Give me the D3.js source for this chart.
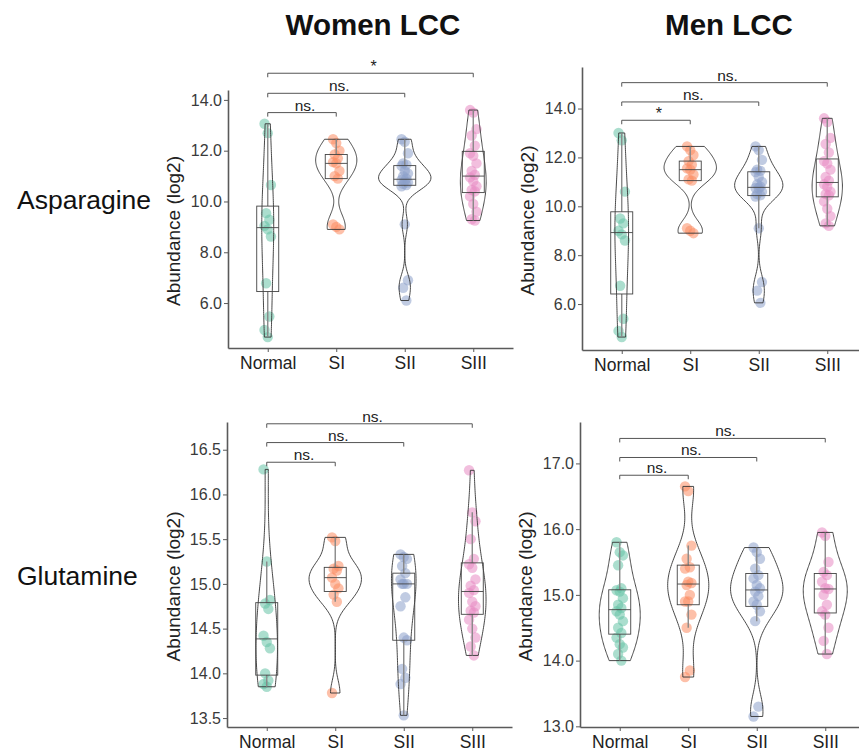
<!DOCTYPE html>
<html><head><meta charset="utf-8">
<script src="https://cdn.jsdelivr.net/npm/d3@7"></script>
<style>body{margin:0;background:#fff}svg{display:block;font-family:"Liberation Sans",Arial,sans-serif}</style>
</head><body><svg id="c" width="859" height="752"></svg>
<script>
// ---------- data ----------
const groups = ["Normal","SI","SII","SIII"];
const columnTitles = ["Women LCC","Men LCC"];
const rowTitles = ["Asparagine","Glutamine"];
const yLabel = "Abundance (log2)";

const womenAsnNormal = [13.06,12.69,10.65,9.54,9.28,9.04,8.9,8.62,6.78,5.47,4.94,4.66];
const womenAsnSI     = [12.45,12.3,12.0,11.85,11.7,11.55,11.5,11.2,11.0,10.9,9.1,9.0,8.9];
const womenAsnSII    = [12.45,12.35,11.9,11.5,11.45,11.4,11.2,11.1,11.0,10.9,10.85,10.8,10.75,10.7,10.65,10.6,9.1,6.9,6.6,6.1];
const womenAsnSIII   = [13.6,13.5,12.85,12.6,12.2,11.9,11.8,11.5,11.2,11.05,10.95,10.8,10.6,10.45,10.4,10.2,9.9,9.6,9.3,9.25];

const menAsnNormal = [13.0,12.7,10.6,9.5,9.3,9.0,8.85,8.6,6.75,5.4,4.9,4.65];
const menAsnSI     = [12.45,12.3,12.1,11.85,11.7,11.55,11.5,11.3,11.1,11.05,9.1,9.0,8.9];
const menAsnSII    = [12.45,12.3,11.9,11.5,11.45,11.4,11.2,11.0,10.9,10.8,10.75,10.75,10.6,10.5,10.45,10.4,9.1,6.9,6.55,6.05];
const menAsnSIII   = [13.6,13.45,12.8,12.55,12.2,11.85,11.75,11.5,11.2,11.05,10.9,10.8,10.6,10.5,10.45,10.2,9.9,9.6,9.3,9.2];

const womenGlnNormal = [16.28,15.25,14.82,14.78,14.72,14.42,14.35,14.28,14.0,13.92,13.88,13.85];
const womenGlnSI     = [15.52,15.48,15.2,15.17,15.15,15.07,15.0,14.95,14.88,14.8,13.78];
const womenGlnSII    = [15.33,15.3,15.28,15.2,15.12,15.05,15.0,15.0,15.0,14.85,14.75,14.4,14.37,14.05,13.95,13.88,13.53];
const womenGlnSIII   = [16.27,15.8,15.7,15.5,15.28,15.22,15.18,15.05,14.98,14.93,14.9,14.8,14.75,14.7,14.68,14.6,14.5,14.4,14.3,14.2];

const menGlnNormal = [15.8,15.65,15.6,15.45,15.1,15.07,15.05,14.95,14.85,14.8,14.75,14.7,14.6,14.5,14.42,14.35,14.25,14.2,14.1,14.0];
const menGlnSI     = [16.65,16.58,15.75,15.55,15.42,15.4,15.2,15.18,15.15,15.0,14.9,14.9,14.7,14.5,13.85,13.75];
const menGlnSII    = [15.72,15.65,15.55,15.4,15.3,15.25,15.15,15.1,15.05,14.98,14.9,14.85,14.75,14.6,13.3,13.15];
const menGlnSIII   = [15.95,15.9,15.5,15.35,15.3,15.2,15.1,15.09,15.0,14.85,14.75,14.7,14.5,14.3,14.1];

// significance comparisons: [group a, group b, bracket height (data units), label]
const womenAsnSig = [[0,1,13.5,"ns."],[0,2,14.26,"ns."],[0,3,15.05,"*"]];
const menAsnSig   = [[0,1,13.52,"*"],[0,2,14.27,"ns."],[0,3,15.06,"ns."]];
const womenGlnSig = [[0,1,16.36,"ns."],[0,2,16.58,"ns."],[0,3,16.79,"ns."]];
const menGlnSig   = [[0,1,16.82,"ns."],[0,2,17.09,"ns."],[0,3,17.38,"ns."]];

const asnTicks = [6,8,10,12,14];
const womenGlnTicks = [13.5,14,14.5,15,15.5,16,16.5];
const menGlnTicks = [13,14,15,16,17];

// ---------- layout / style ----------
const colors = ["#66c2a5","#fc8d62","#8da0cb","#e78ac3"];
const panels = [
  {data:[womenAsnNormal,womenAsnSI,womenAsnSII,womenAsnSIII], sig:womenAsnSig, ticks:asnTicks,
   left:228, top:90, bottom:348, domain:[4.23,14.39], labelX:173},
  {data:[menAsnNormal,menAsnSI,menAsnSII,menAsnSIII], sig:menAsnSig, ticks:asnTicks,
   left:582, top:67, bottom:350, domain:[4.12,15.70], labelX:527},
  {data:[womenGlnNormal,womenGlnSI,womenGlnSII,womenGlnSIII], sig:womenGlnSig, ticks:womenGlnTicks,
   left:227, top:422, bottom:727, domain:[13.40,16.81], labelX:173},
  {data:[menGlnNormal,menGlnSI,menGlnSII,menGlnSIII], sig:menGlnSig, ticks:menGlnTicks,
   left:580, top:422, bottom:727, domain:[12.99,17.63], labelX:525}
];
const panelW = 285;

const svg = d3.select("#c");

svg.selectAll("text.col").data(columnTitles).join("text")
  .attr("x",(d,i)=>[373,729][i]).attr("y",35).attr("text-anchor","middle")
  .attr("font-size",29.5).attr("font-weight","bold").attr("fill","#111").text(d=>d);
svg.selectAll("text.row").data(rowTitles).join("text")
  .attr("x",17).attr("y",(d,i)=>[209,585][i])
  .attr("font-size",26.5).attr("fill","#111").text(d=>d);

function kde(values){
  const n = values.length;
  const sorted = values.slice().sort(d3.ascending);
  const sd = d3.deviation(sorted);
  const iqr = d3.quantile(sorted,0.75)-d3.quantile(sorted,0.25);
  const bw = 1.3*0.9*Math.min(sd, iqr/1.34)*Math.pow(n,-0.2);
  const lo = sorted[0], hi = sorted[n-1];
  const pts = d3.range(0,101).map(i=>lo+(hi-lo)*i/100);
  return pts.map(v=>[v, d3.mean(sorted, x=>Math.exp(-0.5*((v-x)/bw)**2))/(bw*Math.sqrt(2*Math.PI))]);
}

panels.forEach(p=>{
  const g = svg.append("g");
  const x = d3.scalePoint().domain(groups).range([p.left, p.left+panelW]).padding(0.58);
  const y = d3.scaleLinear().domain(p.domain).range([p.bottom, p.top]);
  const step = x.step();

  // axes
  const yAx = g.append("g").attr("transform",`translate(${p.left},0)`)
    .call(d3.axisLeft(y).tickValues(p.ticks).tickFormat(d3.format(".1f")).tickSize(4).tickSizeOuter(0));
  yAx.select(".domain").attr("stroke","#5a5a5a").attr("stroke-width",1.6);
  yAx.selectAll(".tick line").attr("stroke","#5a5a5a");
  yAx.selectAll(".tick text").attr("font-size",16).attr("fill","#3a3a3a").attr("font-family","Liberation Sans, Arial").attr("x",-6);

  const xAx = g.append("g").attr("transform",`translate(0,${p.bottom})`)
    .call(d3.axisBottom(x).tickSize(4).tickSizeOuter(0));
  xAx.select(".domain").attr("stroke","#5a5a5a").attr("stroke-width",1.6);
  xAx.selectAll(".tick line").attr("stroke","#5a5a5a");
  xAx.selectAll(".tick text").attr("font-size",17.5).attr("fill","#222").attr("font-family","Liberation Sans, Arial").attr("y",9);

  g.append("text").attr("transform",`translate(${p.labelX},${(p.top+p.bottom)/2+12}) rotate(-90)`)
    .attr("text-anchor","middle").attr("dy","0.35em").attr("font-size",19).attr("fill","#222").text(yLabel);

  // points
  p.data.forEach((vals,gi)=>{
    g.append("g").selectAll("circle").data(vals).join("circle")
      .attr("cx",(d,i)=>x(groups[gi]) + (((i*7)%5)-2)*1.6)
      .attr("cy",d=>y(d)).attr("r",5.2)
      .attr("fill",colors[gi]).attr("fill-opacity",0.55);
  });

  // violins (area scaling across groups)
  const dens = p.data.map(kde);
  const maxD = d3.max(dens, d=>d3.max(d,e=>e[1]));
  const halfMax = 0.45*step*0.85;
  dens.forEach((dd,gi)=>{
    const cx = x(groups[gi]);
    const area = d3.area().curve(d3.curveLinear)
      .y(d=>y(d[0])).x0(d=>cx - d[1]/maxD*halfMax).x1(d=>cx + d[1]/maxD*halfMax);
    g.append("path").attr("d",area(dd)).attr("fill","none").attr("stroke","#333").attr("stroke-width",0.9);
  });

  // boxplots
  const bw = 22;
  p.data.forEach((vals,gi)=>{
    const s = vals.slice().sort(d3.ascending);
    const q1=d3.quantile(s,0.25), q2=d3.quantile(s,0.5), q3=d3.quantile(s,0.75);
    const iqr=q3-q1;
    const lo = d3.min(s.filter(v=>v>=q1-1.5*iqr)), hi = d3.max(s.filter(v=>v<=q3+1.5*iqr));
    const cx = x(groups[gi]);
    g.append("line").attr("x1",cx).attr("x2",cx).attr("y1",y(hi)).attr("y2",y(q3)).attr("stroke","#888").attr("stroke-width",1.4);
    g.append("line").attr("x1",cx).attr("x2",cx).attr("y1",y(q1)).attr("y2",y(lo)).attr("stroke","#888").attr("stroke-width",1.4);
    g.append("rect").attr("x",cx-bw/2).attr("width",bw).attr("y",y(q3)).attr("height",y(q1)-y(q3))
      .attr("fill","none").attr("stroke","#444").attr("stroke-width",0.9);
    g.append("line").attr("x1",cx-bw/2).attr("x2",cx+bw/2).attr("y1",y(q2)).attr("y2",y(q2)).attr("stroke","#444").attr("stroke-width",0.9);
  });

  // significance brackets
  p.sig.forEach(([a,b,h,lab])=>{
    const xa = x(groups[a]), xb = x(groups[b]), yy = y(h);
    g.append("path").attr("d",`M${xa},${yy+4}V${yy}H${xb}V${yy+4}`).attr("fill","none").attr("stroke","#555").attr("stroke-width",1);
    g.append("text").attr("x",(xa+xb)/2+3).attr("y",lab==="*"? yy-1 : yy-2).attr("text-anchor","middle")
      .attr("font-size",lab==="*"?16:15.5).attr("fill","#222").text(lab);
  });
});
</script></body></html>
